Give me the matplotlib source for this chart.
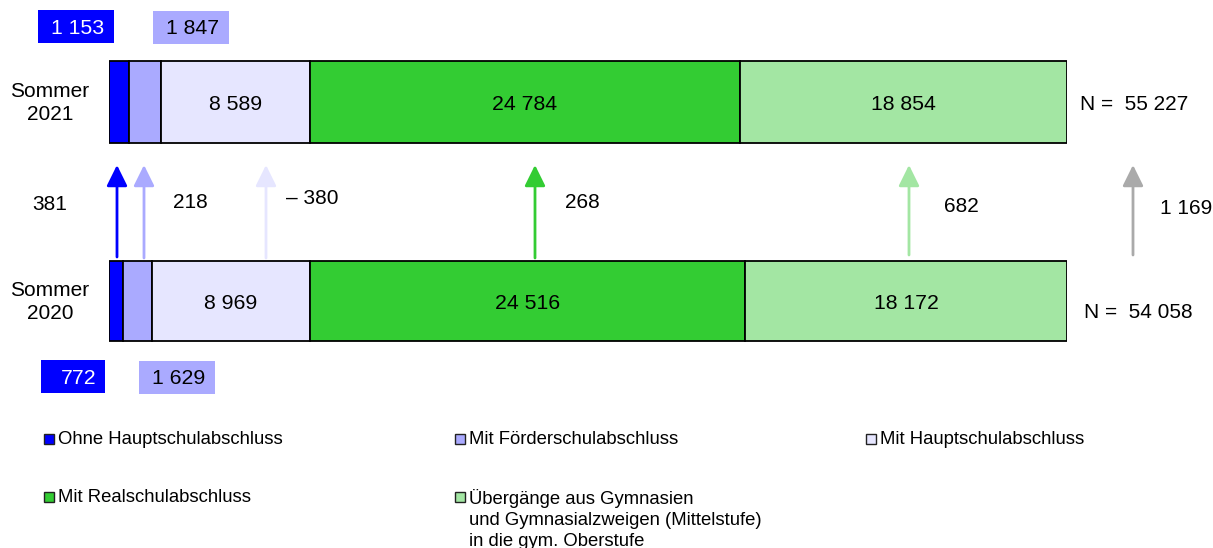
import matplotlib
matplotlib.use("Agg")
import matplotlib.pyplot as plt
from matplotlib.patches import Rectangle

plt.rcParams['font.family'] = ['Liberation Sans', 'DejaVu Sans']

# ---- data ----
years = ["Sommer\n2021", "Sommer\n2020"]
categories = ["Ohne Hauptschulabschluss", "Mit Förderschulabschluss", "Mit Hauptschulabschluss",
              "Mit Realschulabschluss",
              "Übergänge aus Gymnasien\nund Gymnasialzweigen (Mittelstufe)\nin die gym. Oberstufe"]
values_2021 = [1153, 1847, 8589, 24784, 18854]
values_2020 = [772, 1629, 8969, 24516, 18172]
colors = ["#0000FF", "#AAAAFF", "#E6E6FF", "#33CC33", "#A3E6A3"]
total_color = "#AAAAAA"

def fmt(v):
    s = f"{abs(v):,}".replace(",", " ")
    return ("– " + s) if v < 0 else s

W, H = 1213, 548
fig = plt.figure(figsize=(W / 100, H / 100), dpi=100)

# bars axis: share in % across the bar span
bx0, bx1 = 109, 1067
ax = fig.add_axes([bx0 / W, 0, (bx1 - bx0) / W, 1])
ax.set_xlim(0, 100)
ax.set_ylim(H, 0)
ax.axis("off")

# overlay axis in pixel coordinates for annotations
pax = fig.add_axes([0, 0, 1, 1], zorder=3)
pax.set_xlim(0, W)
pax.set_ylim(H, 0)
pax.axis("off")
pax.patch.set_alpha(0)

rows = [(values_2021, 102, 82), (values_2020, 301, 80)]
for vals, yc, h in rows:
    tot = sum(vals)
    left = 0
    for i, v in enumerate(vals):
        share = v / tot * 100
        ax.barh(yc, share, left=left, height=h, color=colors[i], edgecolor="black", linewidth=1.3)
        if i >= 2:
            ax.text(left + share / 2, yc + 2.5, fmt(v), ha="center", va="center", fontsize=15.3, color="black")
        left += share

# year labels
pax.text(50, 103, years[0], ha="center", va="center", fontsize=15, linespacing=1.3)
pax.text(50, 302, years[1], ha="center", va="center", fontsize=15, linespacing=1.3)

# totals
pax.text(1080, 104, "N =  " + fmt(sum(values_2021)), ha="left", va="center", fontsize=15)
pax.text(1084, 312, "N =  " + fmt(sum(values_2020)), ha="left", va="center", fontsize=15)

# small-value boxes
def box(x0, y0, w, h, fc, txt, tc, tx):
    pax.add_patch(Rectangle((x0, y0), w, h, facecolor=fc, edgecolor="none"))
    pax.text(tx, y0 + h / 2 + 1.5, txt, ha="right", va="center", fontsize=15.3, color=tc)

box(38, 10, 76, 33, colors[0], fmt(values_2021[0]), "white", 104)
box(153, 11, 76, 33, colors[1], fmt(values_2021[1]), "black", 219)
box(41, 360, 64, 33, colors[0], fmt(values_2020[0]), "white", 96)
box(139, 361, 76, 33, colors[1], fmt(values_2020[1]), "black", 205)

# difference arrows
diffs = [a - b for a, b in zip(values_2021, values_2020)] + [sum(values_2021) - sum(values_2020)]
arrow_x = [117, 144, 266, 535, 909, 1133]
arrow_tail = [257, 258, 258, 258, 255, 255]
arrow_cols = colors + [total_color]
label_pos = [(50, 204), (190, 202), (312, 199), (582, 202), (961, 207), (1186, 209)]
for d, x, yt, c, (lx, ly) in zip(diffs, arrow_x, arrow_tail, arrow_cols, label_pos):
    pax.annotate("", xy=(x, 165), xytext=(x, yt),
                 arrowprops=dict(arrowstyle="-|>,head_length=0.85,head_width=0.42",
                                 mutation_scale=15, lw=2, color=c, shrinkA=0, shrinkB=0))
    pax.text(lx, ly, fmt(d), ha="center", va="center", fontsize=15)

# legend
leg_pos = [(44, 439), (455, 439), (866, 439), (44, 497), (455, 497)]
for (x, y), lab, c in zip(leg_pos, categories, colors):
    pax.add_patch(Rectangle((x, y - 5), 10, 10, facecolor=c, edgecolor="#222222", linewidth=1))
    pax.text(x + 14, y - 8, lab, ha="left", va="top", fontsize=13.3, linespacing=1.3)

fig.savefig("out.png", dpi=100)
